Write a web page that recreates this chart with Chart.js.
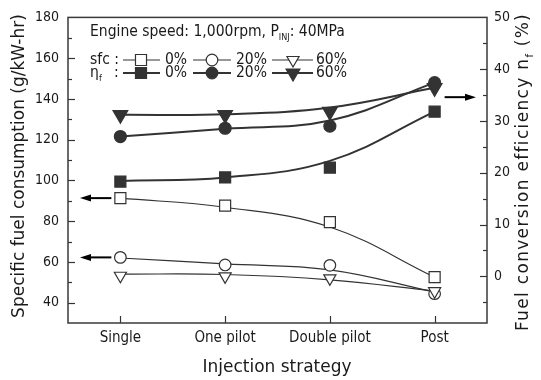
<!DOCTYPE html>
<html><head><meta charset="utf-8">
<script src="https://cdn.jsdelivr.net/npm/chart.js@4/dist/chart.umd.min.js"></script>
<style>html,body{margin:0;padding:0;background:#fff}#wrap{width:541px;height:380px;position:relative}</style>
</head><body><div id="wrap"><canvas id="c"></canvas></div>
<script>
const categories = ['Single', 'One pilot', 'Double pilot', 'Post'];
// specific fuel consumption (g/kW-hr), left axis: measured points
const sfc0  = [91.3, 87.6, 79.5, 52.5];
const sfc20 = [62.2, 58.5, 58.3, 44.4];
const sfc60 = [53.2, 52.9, 51.9, 45.6];
// sfc trend curves, read at each category
const sfc0Fit  = [91.3, 86.8, 77.1, 52.5];
const sfc20Fit = [61.9, 59.0, 56.1, 45.2];
const sfc60Fit = [54.0, 53.8, 51.2, 45.7];
// fuel conversion efficiency (%), right axis: measured points
const eff0  = [18.3, 19.1, 21.0, 31.8];
const eff20 = [27.0, 28.6, 29.0, 37.4];
const eff60 = [31.2, 31.2, 31.8, 36.4];
// efficiency trend curves, read at each category
const eff0Fit  = [18.4, 19.1, 22.3, 31.8];
const eff20Fit = [27.0, 28.5, 30.1, 37.4];
const eff60Fit = [31.2, 31.3, 32.6, 36.4];
const leftTicks  = [40, 60, 80, 100, 120, 140, 160, 180];
const rightTicks = [0, 10, 20, 30, 40, 50];
const legendRates = ['0%', '20%', '60%'];

const FONT = "'DejaVu Sans Condensed', 'DejaVu Sans', sans-serif";
const TFONT = "'DejaVu Sans', sans-serif";
const DARK = '#333333';
const TXT = '#1a1a1a';

function pts(data, axis, style, filled, r, rot) {
  return { data, yAxisID: axis, showLine: false, pointStyle: style, pointRadius: r, pointHoverRadius: r,
    pointRotation: rot || 0, pointBackgroundColor: filled ? DARK : '#ffffff', pointBorderColor: DARK,
    pointBorderWidth: 1.2, borderColor: DARK, clip: false };
}
function fit(data, axis, w) {
  return { data, yAxisID: axis, pointRadius: 0, borderColor: DARK, borderWidth: w, tension: 0.4, fill: false };
}

function marker(ctx, style, filled, x, y, r, rot) {
  ctx.beginPath();
  if (style === 'rect') { const s = Math.SQRT1_2 * r; ctx.rect(x - s, y - s, 2 * s, 2 * s); }
  else if (style === 'circle') { ctx.arc(x, y, r, 0, Math.PI * 2); }
  else {
    let a = (rot || 0) * Math.PI / 180;
    for (let i = 0; i < 3; i++) { const px = x + Math.sin(a) * r, py = y - Math.cos(a) * r; i ? ctx.lineTo(px, py) : ctx.moveTo(px, py); a += 2 * Math.PI / 3; }
    ctx.closePath();
  }
  ctx.fillStyle = filled ? DARK : '#fff'; ctx.fill();
  ctx.strokeStyle = DARK; ctx.lineWidth = 1.2; ctx.stroke();
}

function arrow(ctx, x1, y, x2) {
  const dir = Math.sign(x2 - x1);
  ctx.strokeStyle = '#000'; ctx.fillStyle = '#000'; ctx.lineWidth = 2;
  ctx.beginPath(); ctx.moveTo(x1, y); ctx.lineTo(x2 - dir * 8, y); ctx.stroke();
  ctx.beginPath(); ctx.moveTo(x2, y); ctx.lineTo(x2 - dir * 11, y - 3.5); ctx.lineTo(x2 - dir * 11, y + 3.5); ctx.closePath(); ctx.fill();
}

function fitFont(ctx, text, target, base) {
  ctx.font = base + 'px ' + TFONT;
  const w = ctx.measureText(text).width;
  return Math.max(12, Math.min(20, base * target / w));
}

const decor = {
  id: 'decor',
  afterDraw(chart) {
    const { ctx, chartArea: a, scales } = chart;
    const x = scales.x, y = scales.y, y1 = scales.y1;
    ctx.save();
    ctx.strokeStyle = DARK; ctx.lineWidth = 1.2;
    const seg = (x1, y1_, x2, y2) => { ctx.beginPath(); ctx.moveTo(x1, y1_); ctx.lineTo(x2, y2); ctx.stroke(); };
    for (let v = 40; v <= 170; v += 10) { const p = Math.round(y.getPixelForValue(v)) + 0.5; seg(a.left, p, a.left + (v % 20 === 0 ? 7 : 4), p); }
    for (let v = -5; v <= 45; v += 5) { const p = Math.round(y1.getPixelForValue(v)) + 0.5; seg(a.right, p, a.right - (v % 10 === 0 ? 7 : 4), p); }
    categories.forEach((c, i) => { const p = Math.round(x.getPixelForValue(i)) + 0.5; seg(p, a.bottom, p, a.bottom - 7); });
    ctx.lineWidth = 1.5; ctx.strokeStyle = '#3a3a3a';
    ctx.strokeRect(a.left, a.top, a.right - a.left, a.bottom - a.top);

    arrow(ctx, x.getPixelForValue(0) - 9, y.getPixelForValue(sfc0[0]), a.left + 12);
    arrow(ctx, x.getPixelForValue(0) - 9, y.getPixelForValue(sfc20[0]), a.left + 12);
    arrow(ctx, x.getPixelForValue(3) + 10, y1.getPixelForValue(34.6), a.right - 11);

    // legend
    ctx.fillStyle = TXT; ctx.textBaseline = 'middle'; ctx.textAlign = 'left';
    const lf = '15.5px ' + FONT, sf = '9px ' + FONT;
    ctx.font = lf;
    let tx = 90; const ty = 32;
    const t1 = 'Engine speed: 1,000rpm, P';
    ctx.fillText(t1, tx, ty); tx += ctx.measureText(t1).width;
    ctx.font = sf; ctx.fillText('INJ', tx, ty + 6); tx += ctx.measureText('INJ').width;
    ctx.font = lf; ctx.fillText(': 40MPa', tx, ty);
    const rows = [{ y: 60, filled: false }, { y: 73, filled: true }];
    ctx.font = lf; ctx.fillText('sfc :', 90, rows[0].y);
    ctx.fillText('\u03B7', 90, rows[1].y);
    ctx.font = sf; ctx.fillText('f', 99, rows[1].y + 6);
    ctx.font = lf; ctx.fillText(':', 114, rows[1].y);
    const xs = [[123, 160, 141, 165], [193, 231, 212, 236], [272, 313, 293, 316]];
    const styles = [['rect', 7.8, 0], ['circle', 5.8, 0], ['triangle', 8, 180]];
    rows.forEach(row => {
      xs.forEach((s, i) => {
        ctx.strokeStyle = DARK; ctx.lineWidth = row.filled ? 2 : 1.2;
        seg(s[0], row.y, s[1], row.y);
        const st = styles[i];
        marker(ctx, st[0], row.filled, s[2], row.y, st[0] === 'triangle' && !row.filled ? 7 : st[1], st[2]);
        ctx.fillStyle = TXT; ctx.font = lf; ctx.fillText(legendRates[i], s[3], row.y);
      });
    });

    // axis titles
    ctx.textAlign = 'center';
    const xt = 'Injection strategy';
    ctx.font = fitFont(ctx, xt, 149, 17) + 'px ' + TFONT;
    ctx.fillText(xt, 277, 368);
    const lt = 'Specific fuel consumption (g/kW-hr)';
    const fs = fitFont(ctx, lt, 304, 17);
    ctx.font = fs + 'px ' + TFONT;
    ctx.save(); ctx.translate(20, 166); ctx.rotate(-Math.PI / 2);
    ctx.fillText(lt, 0, 0); ctx.restore();

    // right title, same glyph size as the left one, spaced out to the reference length
    ctx.save(); ctx.translate(524, 172); ctx.rotate(-Math.PI / 2);
    const p1 = 'Fuel conversion efficiency n', p3 = ' (%)';
    const tf = fs + 'px ' + TFONT, subf = (fs * 0.6) + 'px ' + TFONT;
    ctx.font = tf;
    let w1 = ctx.measureText(p1).width, w3 = ctx.measureText(p3).width;
    ctx.font = subf; const w2 = ctx.measureText('f').width + 1;
    const n = (p1 + p3).length;
    const ls = Math.max(0, (318 - (w1 + w2 + w3)) / n);
    ctx.letterSpacing = ls.toFixed(2) + 'px';
    ctx.font = tf;
    w1 = ctx.measureText(p1).width; w3 = ctx.measureText(p3).width;
    let sx = -(w1 + w2 + w3) / 2;
    ctx.textAlign = 'left'; ctx.fillText(p1, sx, 0); sx += w1;
    ctx.letterSpacing = '0px';
    ctx.font = subf; ctx.fillText('f', sx, 6); sx += w2;
    ctx.letterSpacing = ls.toFixed(2) + 'px';
    ctx.font = tf; ctx.fillText(p3, sx, 0);
    ctx.letterSpacing = '0px';
    ctx.restore();
    ctx.restore();
  }
};

new Chart(document.getElementById('c'), {
  type: 'line',
  data: {
    labels: categories,
    datasets: [
      pts(eff60, 'y1', 'triangle', true, 8.5, 180),
      pts(eff20, 'y1', 'circle', true, 6),
      pts(eff0, 'y1', 'rect', true, 7.8),
      pts(sfc60, 'y', 'triangle', false, 7, 180),
      pts(sfc20, 'y', 'circle', false, 5.8),
      pts(sfc0, 'y', 'rect', false, 7.8),
      fit(eff60Fit, 'y1', 2), fit(eff20Fit, 'y1', 2), fit(eff0Fit, 'y1', 2),
      fit(sfc60Fit, 'y', 1.2), fit(sfc20Fit, 'y', 1.2), fit(sfc0Fit, 'y', 1.2)
    ]
  },
  options: {
    responsive: true, maintainAspectRatio: false, animation: false,
    layout: { padding: { top: 14, left: 0, right: 0, bottom: 0 } },
    plugins: { legend: { display: false }, tooltip: { enabled: false } },
    scales: {
      x: { offset: true, grid: { display: false, drawTicks: false }, border: { display: false },
        ticks: { color: TXT, font: { family: FONT, size: 15 }, padding: 6, maxRotation: 0 },
        afterFit: s => { s.height = 57; } },
      y: { position: 'left', min: 30, max: 180, grid: { display: false, drawTicks: false }, border: { display: false },
        afterBuildTicks: s => { s.ticks = leftTicks.map(v => ({ value: v })); },
        ticks: { color: TXT, font: { family: FONT, size: 14 }, padding: 9 },
        afterFit: s => { s.width = 68; } },
      y1: { position: 'right', min: -9, max: 50, grid: { display: false, drawTicks: false }, border: { display: false },
        afterBuildTicks: s => { s.ticks = rightTicks.map(v => ({ value: v })); },
        ticks: { color: TXT, font: { family: FONT, size: 14 }, padding: 7 },
        afterFit: s => { s.width = 54; } }
    }
  },
  plugins: [decor]
});
</script></body></html>
